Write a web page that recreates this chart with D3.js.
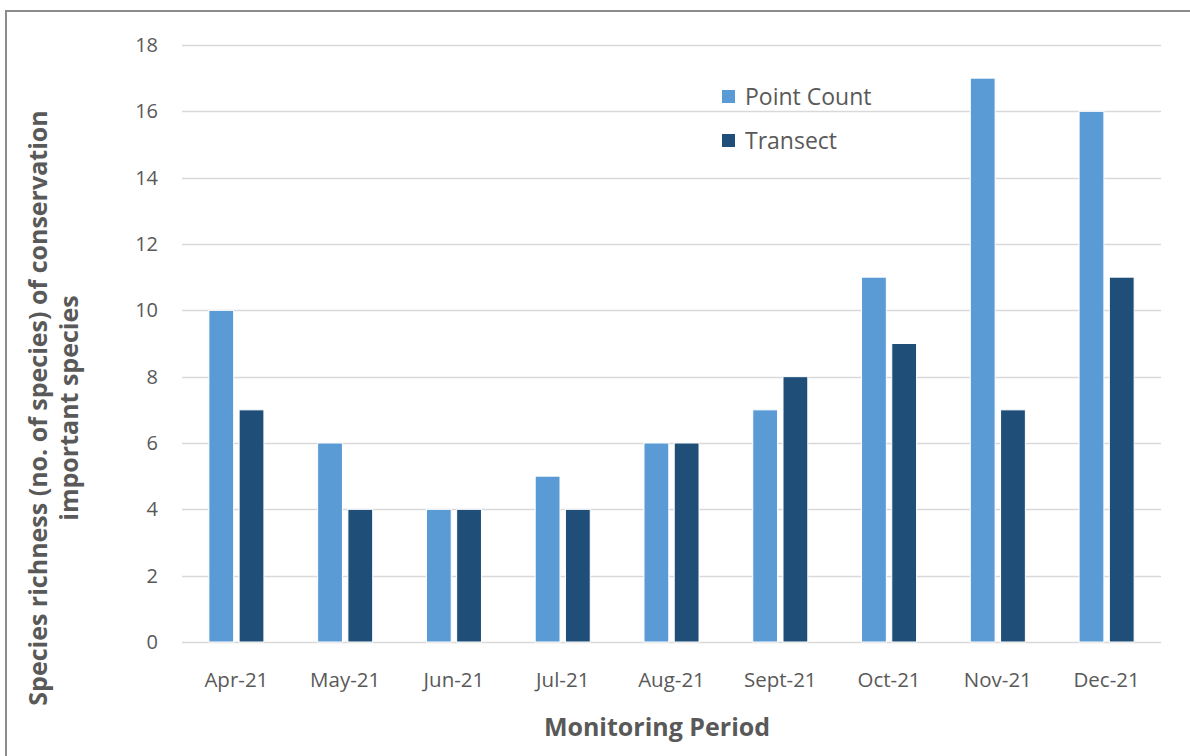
<!DOCTYPE html>
<html>
<head>
<meta charset="utf-8">
<script src="https://cdn.jsdelivr.net/npm/d3@7"></script>
<style>
  body { margin: 0; background: #fff; }
  svg text { font-family: "Open Sans", "Noto Sans", sans-serif; }
</style>
</head>
<body>
<script>
var w = 1190;
var h = 756;

var months = ['Apr-21', 'May-21', 'Jun-21', 'Jul-21', 'Aug-21', 'Sept-21', 'Oct-21', 'Nov-21', 'Dec-21'];
var seriesNames = ['Point Count', 'Transect'];
var pointCount = [10, 6, 4, 5, 6, 7, 11, 17, 16];
var transect = [7, 4, 4, 4, 6, 8, 9, 7, 11];
var yTicks = [0, 2, 4, 6, 8, 10, 12, 14, 16, 18];
var colors = ['#5B9BD5', '#1F4E79'];

var rows = months.map(function (m, i) {
  return { month: m, values: [pointCount[i], transect[i]] };
});

var svg = d3.select('body')
  .append('svg')
  .attr('width', w)
  .attr('height', h);

// outer frame (runs off the right and bottom edge)
svg.append('rect')
  .attr('x', 6)
  .attr('y', 11)
  .attr('width', w + 10)
  .attr('height', h + 10)
  .attr('fill', '#fff')
  .attr('stroke', '#8c8c8c')
  .attr('stroke-width', 2);

var plotLeft = 182, plotRight = 1161, plotTop = 45, plotBottom = 642;

var x0 = d3.scaleBand()
  .domain(months)
  .range([plotLeft, plotRight])
  .paddingInner(0.494)
  .paddingOuter(0.247);

var x1 = d3.scaleBand()
  .domain([0, 1])
  .range([0, x0.bandwidth()])
  .paddingInner(0.18);

var y = d3.scaleLinear()
  .domain([0, 18])
  .range([plotBottom, plotTop]);

// gridlines
svg.append('g')
  .selectAll('line')
  .data(yTicks)
  .enter()
  .append('line')
  .attr('x1', plotLeft)
  .attr('x2', plotRight)
  .attr('y1', function (d) { return Math.round(y(d)) + 0.5; })
  .attr('y2', function (d) { return Math.round(y(d)) + 0.5; })
  .attr('stroke', '#d9d9d9')
  .attr('stroke-width', 1.5);

// y tick labels
svg.append('g')
  .selectAll('text')
  .data(yTicks)
  .enter()
  .append('text')
  .attr('x', 158)
  .attr('y', function (d) { return y(d); })
  .attr('dy', '0.35em')
  .attr('text-anchor', 'end')
  .attr('font-size', 20)
  .attr('fill', '#595959')
  .text(function (d) { return d; });

// bars
var groups = svg.append('g')
  .selectAll('g')
  .data(rows)
  .enter()
  .append('g')
  .attr('transform', function (d) { return 'translate(' + x0(d.month) + ',0)'; });

groups.selectAll('rect')
  .data(function (d) { return d.values; })
  .enter()
  .append('rect')
  .attr('x', function (d, i) { return x1(i); })
  .attr('y', function (d) { return y(d); })
  .attr('width', x1.bandwidth())
  .attr('height', function (d) { return y(0) - y(d); })
  .attr('fill', function (d, i) { return colors[i]; })
  .attr('stroke', '#fff')
  .attr('stroke-width', 1);

// x tick labels
svg.append('g')
  .selectAll('text')
  .data(months)
  .enter()
  .append('text')
  .attr('x', function (d) { return x0(d) + x0.bandwidth() / 2; })
  .attr('y', 687)
  .attr('text-anchor', 'middle')
  .attr('font-size', 20.5)
  .attr('fill', '#595959')
  .text(function (d) { return d; });

// axis titles
svg.append('text')
  .attr('x', 657)
  .attr('y', 736)
  .attr('text-anchor', 'middle')
  .attr('font-size', 25)
  .attr('font-weight', 'bold')
  .attr('fill', '#595959')
  .text('Monitoring Period');

var yTitle = svg.append('text')
  .attr('transform', 'translate(38,408) rotate(-90)')
  .attr('text-anchor', 'middle')
  .attr('font-size', 25)
  .attr('font-weight', 'bold')
  .attr('fill', '#595959');
yTitle.append('tspan')
  .attr('x', 0)
  .attr('dy', '0.35em')
  .text('Species richness (no. of species) of conservation');
yTitle.append('tspan')
  .attr('x', 0)
  .attr('dy', 31)
  .text('important species');

// legend
var legend = svg.append('g')
  .selectAll('g')
  .data(seriesNames)
  .enter()
  .append('g')
  .attr('transform', function (d, i) { return 'translate(722,' + (90 + i * 44) + ')'; });

legend.append('rect')
  .attr('width', 13)
  .attr('height', 13)
  .attr('fill', function (d, i) { return colors[i]; });

legend.append('text')
  .attr('x', 23)
  .attr('y', 7)
  .attr('dy', '0.35em')
  .attr('font-size', 23)
  .attr('fill', '#595959')
  .text(function (d) { return d; });
</script>
</body>
</html>
